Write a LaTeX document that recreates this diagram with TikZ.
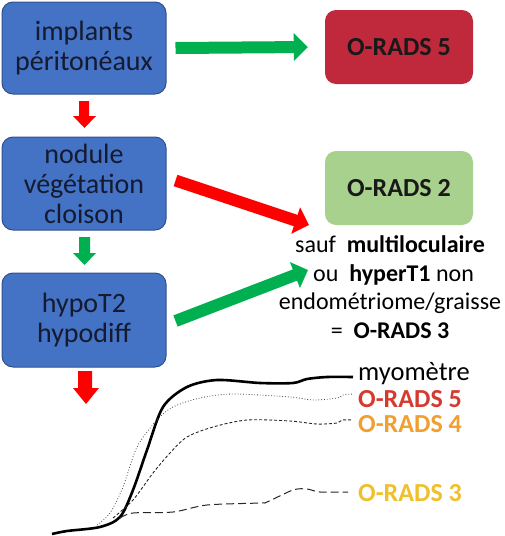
\documentclass[tikz,border=0pt]{standalone}
\usepackage{fontspec}
\setmainfont{Carlito}
\usetikzlibrary{arrows.meta,calc}
\definecolor{boxblue}{HTML}{4472C4}
\definecolor{boxblueedge}{HTML}{2F528F}
\definecolor{boxred}{HTML}{C0283C}
\definecolor{boxgreen}{HTML}{A9D18E}
\definecolor{arrgreen}{HTML}{00B050}
\definecolor{arrred}{HTML}{FF0000}
\definecolor{txtred}{HTML}{D63A2F}
\definecolor{txtorange}{HTML}{F0A030}
\definecolor{txtyellow}{HTML}{F0C02A}
\definecolor{boxtext}{HTML}{141A30}
\begin{document}
\begin{tikzpicture}[x=1pt,y=-1pt,
  boxfont/.style={font=\fontsize{28}{30}\selectfont},
  bluebox/.style={boxfont,draw=boxblueedge,line width=1pt,fill=boxblue,rounded corners=11pt,
    minimum width=164pt,align=center,text=boxtext,inner sep=0pt},
  resbox/.style={rounded corners=11pt,minimum width=148pt,minimum height=74pt,
    inner sep=0pt,text=black!90,font=\fontsize{26}{30}\selectfont\bfseries},
  fatarrow/.style={line width=12pt,-{Triangle[width=27pt,length=14pt]}},
  legend/.style={anchor=west,inner sep=0pt,font=\fontsize{26.5}{30}\selectfont},
  legendb/.style={legend,font=\fontsize{26}{30}\selectfont\bfseries}
]
\useasboundingbox (0,0) rectangle (505,536);
% boxes
\node[bluebox,minimum height=92pt] (imp) at (84,48) {implants\\péritonéaux};
\node[resbox,fill=boxred] (o5) at (399,47) {O-RADS 5};
\node[bluebox,minimum height=93pt] (nod) at (84,183.5) {nodule\\végétation\\cloison};
\node[resbox,fill=boxgreen] (o2) at (399,188) {O-RADS 2};
\node[bluebox,minimum height=94pt] (hyp) at (84,320) {hypoT2\\hypodiff};
\node[font=\fontsize{24}{28.5}\selectfont,align=center,inner sep=0pt] (sauf) at (390,287)
  {sauf\hspace{0.45em}\textbf{multiloculaire}\\\hspace{0.3em}ou\hspace{0.45em}\textbf{hyperT1} non\\endométriome/graisse\\=\hspace{0.45em}\textbf{O-RADS 3}};
% connectors
\draw[fatarrow,arrgreen] ([xshift=9pt]imp.east) -- ([xshift=-17pt]o5.west);
\coordinate (redend) at (309,225);
\coordinate (greenend) at (308,270);
\draw[fatarrow,arrred] ($(nod.east)+(9,-3)$) -- (redend);
\draw[fatarrow,arrgreen] ($(hyp.east)+(9,1)$) -- (greenend);
% down arrows
\fill[arrred] (79,101) -- (89,101) -- (89,116) -- (96,116) -- (84.5,128) -- (73,116) -- (79,116) -- cycle;
\fill[arrgreen] (79,237) -- (90,237) -- (90,253) -- (96,253) -- (84.5,265) -- (73,253) -- (79,253) -- cycle;
\fill[arrred] (78,371) -- (92,371) -- (92,388) -- (99,388) -- (86,404) -- (73,388) -- (78,388) -- cycle;
% curves
\draw[line width=2.6pt,line join=round] plot[smooth,tension=0.5] coordinates {
 (52,534) (67,531) (100,527) (120,517) (133,490) (147,450) (163,407) (187,387) (217,380)
 (260,383) (293,383) (307,379) (327,377) (353,377)};
\draw[line width=0.8pt,dotted,black!75] plot[smooth,tension=0.5] coordinates {
 (97,525) (110,513) (123,487) (137,447) (157,420) (173,407) (200,398) (233,394)
 (290,397) (313,400) (337,398) (343,395) (353,394)};
\draw[line width=0.9pt,dash pattern=on 3pt off 2pt,black!85] plot[smooth,tension=0.5] coordinates {
 (113,518) (133,500) (153,473) (170,453) (187,437) (213,427) (247,420)
 (290,421) (317,424) (337,423) (342,420) (352,420)};
\draw[line width=1pt,dash pattern=on 8pt off 4pt,black!85] plot[smooth,tension=0.5] coordinates {
 (120,518) (133,513) (173,512) (207,505) (260,503) (267,502) (293,490) (307,489)
 (320,492) (348,492)};
% legend
\node[legend] (lmyo) at (358,374) {myomètre};
\node[legendb,text=txtred] (l5) at (358,399) {O-RADS 5};
\node[legendb,text=txtorange] (l4) at (358,424) {O-RADS 4};
\node[legendb,text=txtyellow] (l3) at (358,493) {O-RADS 3};
\end{tikzpicture}
\end{document}
